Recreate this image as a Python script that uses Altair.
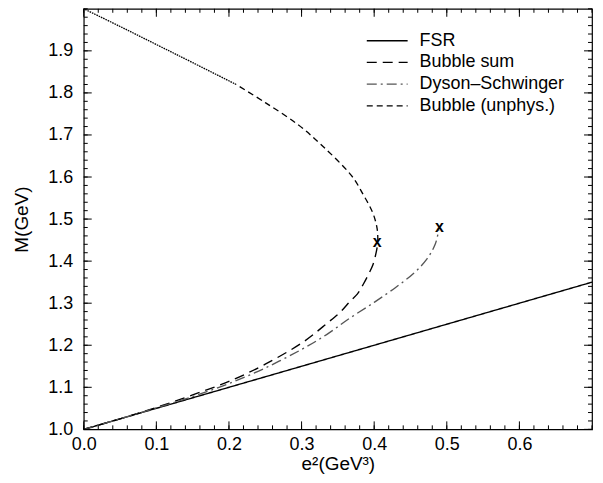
import altair as alt
import pandas as pd

# ---- values: e^2 (GeV^3) vs M (GeV) ----
fsr_e2 = [0.0, 0.7]
fsr_m = [1.0, 1.35]

bub_e2 = [0.0, 0.05, 0.10, 0.15, 0.20, 0.25, 0.30, 0.337, 0.354, 0.367, 0.377, 0.385, 0.392, 0.398, 0.402, 0.404, 0.405]
bub_m = [1.0, 1.025, 1.052, 1.082, 1.114, 1.155, 1.205, 1.255, 1.280, 1.305, 1.322, 1.345, 1.368, 1.390, 1.415, 1.432, 1.448]

ds_e2 = [0.0, 0.05, 0.10, 0.15, 0.20, 0.25, 0.30, 0.335, 0.367, 0.40, 0.43, 0.455, 0.473, 0.484, 0.489]
ds_m = [1.0, 1.025, 1.051, 1.078, 1.109, 1.146, 1.190, 1.226, 1.265, 1.302, 1.338, 1.372, 1.406, 1.440, 1.475]

# unphysical bubble branch, dashed part (turning point up to e2 ~ 0.21)
unph_e2 = [0.405, 0.404, 0.398, 0.385, 0.367, 0.330, 0.294, 0.25, 0.21]
unph_m = [1.448, 1.478, 1.515, 1.558, 1.607, 1.672, 1.726, 1.777, 1.820]
# same branch, densely dotted part near the top-left
unph_top_e2 = [0.21, 0.15, 0.10, 0.05, 0.0]
unph_top_m = [1.820, 1.872, 1.915, 1.958, 2.0]

marker_e2 = [0.404, 0.490]
marker_m = [1.445, 1.482]

legend_names = ["FSR", "Bubble sum", "Dyson\u2013Schwinger", "Bubble (unphys.)"]
series_names = legend_names + ["Bubble (unphys.) top"]
series_data = [(fsr_e2, fsr_m), (bub_e2, bub_m), (ds_e2, ds_m), (unph_e2, unph_m), (unph_top_e2, unph_top_m)]

x_major = [0.0, 0.1, 0.2, 0.3, 0.4, 0.5, 0.6]
y_major = [1.0, 1.1, 1.2, 1.3, 1.4, 1.5, 1.6, 1.7, 1.8, 1.9]
x_minor = [round(i * 0.02, 2) for i in range(36)]
y_minor = [round(1 + i * 0.02, 2) for i in range(51)]
x_ends = [0.0, 0.7]
y_ends = [1.0, 2.0]

rows = []
for name, (xv, yv) in zip(series_names, series_data):
    for i, (a, b) in enumerate(zip(xv, yv)):
        rows.append({"series": name, "e2": a, "M": b, "idx": i})
lines_df = pd.DataFrame(rows)
markers_df = pd.DataFrame({"e2": marker_e2, "M": marker_m, "lab": ["x", "x"]})

W, H = 510, 422
FONT = "Liberation Sans"
xs = alt.Scale(domain=x_ends, nice=False, zero=False)
ys = alt.Scale(domain=y_ends, nice=False, zero=False)

# inward frame ticks (major 8 px, minor 4 px), one rule per tick, from the edge inwards
ux = (x_ends[1] - x_ends[0]) / W   # data units per pixel
uy = (y_ends[1] - y_ends[0]) / H
tick_rows = []
for vals, px in ((x_major, 8), (x_minor, 4)):
    for v in vals:
        tick_rows.append({"e2": v, "e2b": v, "M": y_ends[0], "Mb": y_ends[0] + px * uy})
        tick_rows.append({"e2": v, "e2b": v, "M": y_ends[1], "Mb": y_ends[1] - px * uy})
for vals, px in ((y_major, 8), (y_minor, 4)):
    for v in vals:
        tick_rows.append({"e2": x_ends[0], "e2b": x_ends[0] + px * ux, "M": v, "Mb": v})
        tick_rows.append({"e2": x_ends[1], "e2b": x_ends[1] - px * ux, "M": v, "Mb": v})
ticks_df = pd.DataFrame(tick_rows)

legend = alt.Legend(
    title=None, orient="none", legendX=283, legendY=24, values=legend_names,
    symbolType="stroke", symbolSize=1681, symbolStrokeWidth=1.3,
    labelFont=FONT, labelFontSize=18, labelOffset=11, labelColor="black",
    clipHeight=16, rowPadding=3.8, padding=0,
)

lines = alt.Chart(lines_df).mark_line(interpolate="cardinal").encode(
    x=alt.X("e2:Q", scale=xs, axis=alt.Axis(
        orient="bottom", values=x_major, format=".1f", tickSize=0, domain=False, grid=False,
        labelFlush=False, labelPadding=6, title="e\u00b2(GeV\u00b3)", titlePadding=1)),
    y=alt.Y("M:Q", scale=ys, axis=alt.Axis(
        orient="left", values=y_major, format=".1f", tickSize=0, domain=False, grid=False,
        labelFlush=False, labelPadding=11, title="M(GeV)", titlePadding=16)),
    color=alt.Color("series:N", scale=alt.Scale(domain=series_names,
                    range=["black", "black", "#555555", "black", "black"]), legend=legend),
    strokeDash=alt.StrokeDash("series:N", scale=alt.Scale(domain=series_names,
                    range=[[1, 0], [10, 6], [10, 4, 2, 4], [6, 4], [1.6, 0.9]]), legend=legend),
    strokeWidth=alt.StrokeWidth("series:N", scale=alt.Scale(domain=series_names,
                    range=[1.4, 1.3, 1.0, 1.3, 2.1]), legend=None),
    order="idx:Q",
)

marks = alt.Chart(markers_df).mark_text(
    font=FONT, fontSize=16, fontWeight="bold", color="black", baseline="middle"
).encode(
    x=alt.X("e2:Q", scale=xs, axis=None),
    y=alt.Y("M:Q", scale=ys, axis=None),
    text="lab:N",
)

ticks = alt.Chart(ticks_df).mark_rule(color="black", strokeWidth=1).encode(
    x=alt.X("e2:Q", scale=xs, axis=None),
    x2="e2b:Q",
    y=alt.Y("M:Q", scale=ys, axis=None),
    y2="Mb:Q",
)

chart = alt.layer(lines, marks, ticks).resolve_axis(
    x="independent", y="independent"
).resolve_scale(x="shared", y="shared").properties(
    width=W, height=H,
    autosize=alt.AutoSizeParams(type="none"),
    padding={"left": 76, "top": 0, "right": 3, "bottom": 45},
).configure_view(
    stroke="black", strokeWidth=1.2
).configure_axis(
    labelFont=FONT, labelFontSize=18, labelColor="black",
    titleFont=FONT, titleFontSize=19, titleFontWeight="normal", titleColor="black",
)

chart.save("out.html", embed_options={"renderer": "svg", "actions": False})
